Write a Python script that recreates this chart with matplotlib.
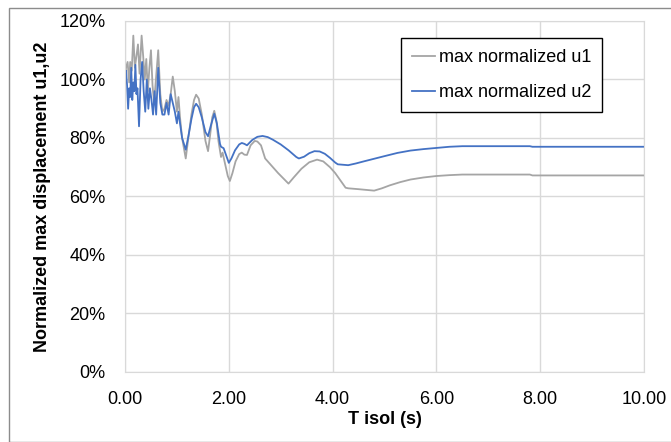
import matplotlib.pyplot as plt
from matplotlib.patches import Rectangle
from matplotlib.ticker import FuncFormatter

plt.rcParams['font.family'] = ['Liberation Sans', 'DejaVu Sans']

# T isol (s) and normalized max displacement (%)
t_u1 = [0.00, 0.02, 0.05, 0.08, 0.10, 0.13, 0.16, 0.19, 0.22, 0.25, 0.28, 0.32,
        0.35, 0.38, 0.41, 0.44, 0.47, 0.50, 0.53, 0.56, 0.60, 0.64, 0.68, 0.72,
        0.76, 0.80, 0.84, 0.88, 0.92, 0.96, 1.00, 1.03, 1.06, 1.10, 1.17, 1.22,
        1.28, 1.33, 1.37, 1.42, 1.48, 1.55, 1.60, 1.64, 1.68, 1.72, 1.76, 1.80,
        1.85, 1.88, 1.93, 1.98, 2.02, 2.07, 2.13, 2.20, 2.25, 2.30, 2.35, 2.42,
        2.50, 2.55, 2.62, 2.70, 2.80, 2.95, 3.15, 3.25, 3.40, 3.55, 3.70, 3.82,
        3.95, 4.05, 4.15, 4.25, 4.30, 4.50, 4.80, 4.95, 5.10, 5.30, 5.50, 5.75,
        6.00, 6.25, 6.50, 7.00, 7.80, 7.85, 10.00]
u1 = [100, 104, 106, 99, 106, 103, 115, 104, 108, 112, 102, 115,
      108, 100, 107, 96, 104, 110, 98, 92, 101, 110, 95, 89,
      90, 93, 91, 95, 101, 96, 89, 94, 87, 80, 73, 80,
      88, 93, 94.8, 93.5, 88, 79, 75.5, 81, 87, 89.3, 86, 79,
      73.5, 75, 71, 67, 65.3, 68, 72, 74.5, 75, 74.3, 74.2, 77.5,
      79, 78.8, 77.5, 73, 71, 68, 64.4, 66.5, 69.5, 71.7, 72.6, 72.0,
      70, 68, 65.5, 63, 62.8, 62.5, 62, 62.8, 63.8, 64.9, 65.8, 66.5,
      67, 67.3, 67.5, 67.5, 67.5, 67.2, 67.2]

t_u2 = [0.00, 0.02, 0.04, 0.06, 0.08, 0.10, 0.12, 0.14, 0.16, 0.18, 0.20, 0.22,
        0.24, 0.27, 0.30, 0.33, 0.36, 0.39, 0.42, 0.45, 0.48, 0.51, 0.54, 0.57,
        0.60, 0.64, 0.68, 0.72, 0.76, 0.80, 0.84, 0.88, 0.92, 0.96, 1.00, 1.03,
        1.06, 1.10, 1.17, 1.22, 1.28, 1.33, 1.37, 1.42, 1.48, 1.55, 1.60, 1.65,
        1.72, 1.77, 1.83, 1.85, 1.90, 1.95, 2.00, 2.05, 2.12, 2.20, 2.25, 2.30,
        2.35, 2.45, 2.55, 2.65, 2.75, 2.85, 3.00, 3.15, 3.30, 3.35, 3.45, 3.55,
        3.65, 3.75, 3.85, 3.95, 4.05, 4.10, 4.30, 4.45, 4.60, 4.80, 5.00, 5.25,
        5.50, 5.75, 6.00, 6.25, 6.50, 7.80, 7.85, 10.00]
u2 = [100, 103, 98, 90, 97, 94, 104, 93, 99, 96, 105, 95,
      97, 84, 100, 106, 96, 89, 100, 90, 97, 93, 88, 96,
      88, 104, 92, 88, 88, 92, 88, 95, 92, 89, 85, 89,
      85, 80, 76, 80.5, 86.5, 90.5, 91.7, 90.5, 87, 82, 80.6, 84,
      88.3, 85, 78, 77, 76.5, 74, 71.5, 73, 75.8, 77.8, 78.3, 78,
      77.5, 79.3, 80.4, 80.7, 80.3, 79.4, 77.8, 75.8, 73.5, 73, 73.6, 74.8,
      75.5, 75.4, 74.6, 73.2, 71.6, 71, 70.7, 71.3, 72, 72.9, 73.8, 74.9,
      75.7, 76.2, 76.6, 77, 77.2, 77.2, 77, 77]

fig = plt.figure(figsize=(6.71, 4.42), dpi=100)
ax = fig.add_axes([0.1863, 0.1584, 0.7735, 0.7941])

ax.plot(t_u1, u1, color='#a5a5a5', lw=1.3, label='max normalized u1')
ax.plot(t_u2, u2, color='#4472c4', lw=1.3, label='max normalized u2')

ax.set_xlim(0, 10)
ax.set_ylim(0, 120)
ax.set_xticks([0, 2, 4, 6, 8, 10])
ax.set_yticks(range(0, 121, 20))
ax.xaxis.set_major_formatter(FuncFormatter(lambda v, p: f'{v:.2f}'))
ax.yaxis.set_major_formatter(FuncFormatter(lambda v, p: f'{v:.0f}%'))
ax.tick_params(length=0, labelsize=13, pad=14)
ax.grid(True, color='#d9d9d9', lw=1)
ax.set_axisbelow(True)
for s in ax.spines.values():
    s.set_color('#d9d9d9')

ax.set_xlabel('T isol (s)', fontsize=13, fontweight='bold', labelpad=2)
ax.set_ylabel('Normalized max displacement u1,u2', fontsize=13,
              fontweight='bold', labelpad=6)

leg = ax.legend(loc='upper right', bbox_to_anchor=(0.919, 0.951), fontsize=13,
                fancybox=False, framealpha=1, edgecolor='black',
                handlelength=1.3, handletextpad=0.2, borderpad=0.6,
                labelspacing=1.0, borderaxespad=0)
leg.get_frame().set_linewidth(1.0)

fig.patches.append(Rectangle((9 / 671, 0), 1, 1 - 8 / 442, transform=fig.transFigure,
                             fill=False, edgecolor='#8c8c8c', lw=1))

fig.savefig('out.png', dpi=100)
